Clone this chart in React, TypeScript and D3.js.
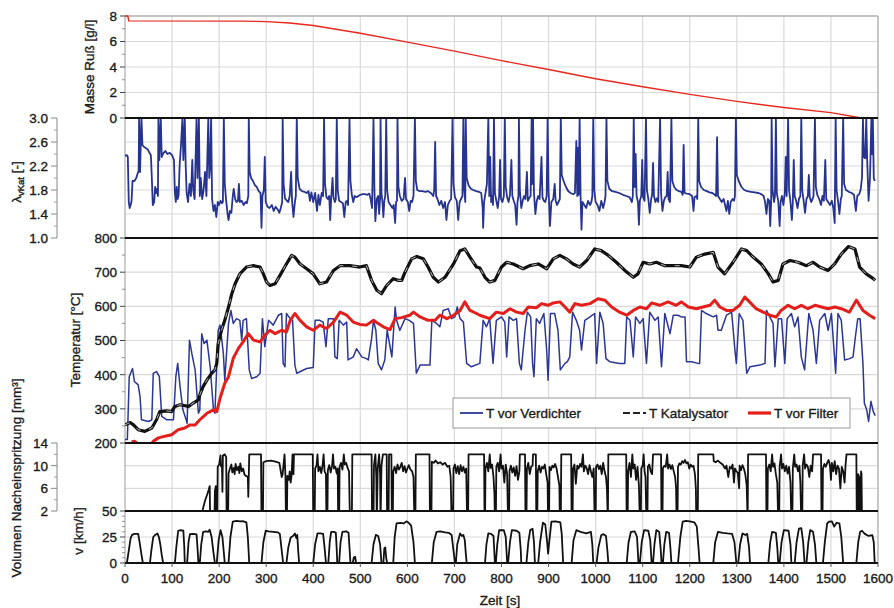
import React from 'react';
import * as d3 from 'd3';

type Pt = [number, number];

const W = 894;
const H = 608;
const FONT = 'Liberation Sans, Arial, sans-serif';

// --- data ---
const timeTicks = d3.range(0, 1601, 100);

const masseRuss: Pt[] = [
  [0, 8], [6, 8], [8, 7.62], [250, 7.6], [300, 7.56], [350, 7.45], [400, 7.25], [500, 6.65], [600, 5.95],
  [700, 5.25], [800, 4.5], [900, 3.8], [1000, 3.08], [1100, 2.45], [1200, 1.85], [1300, 1.3], [1400, 0.82],
  [1500, 0.42], [1565, 0],
];

const lambdaKat: Pt[] = [
  [0, 2.37], [4, 2.38], [6, 2.35], [8, 1.6], [10, 1.5], [12, 1.55], [14, 1.62], [16, 1.95], [20, 1.95], [24, 2.0],
  [27, 2.08], [29, 2.12], [30, 3.0], [32, 2.1], [35, 3.0], [37, 2.55], [40, 2.52], [44, 2.5], [48, 2.48], [52, 2.42],
  [55, 2.38], [57, 2.0], [59, 1.55], [62, 1.6], [64, 1.85], [66, 1.75], [68, 1.82], [70, 1.7], [71, 3.0], [73, 2.3],
  [76, 3.0], [78, 2.35], [82, 2.42], [86, 2.45], [90, 2.4], [95, 2.42], [100, 2.38], [104, 2.3], [106, 1.75],
  [108, 1.6], [110, 1.85], [112, 1.65], [114, 1.72], [116, 2.2], [119, 2.55], [122, 3.0], [124, 2.3], [127, 3.0],
  [129, 2.2], [131, 1.75], [134, 1.6], [137, 1.9], [140, 1.7], [143, 2.3], [145, 1.8], [148, 1.65], [152, 3.0],
  [154, 2.0], [157, 3.0], [159, 1.7], [161, 2.0], [164, 1.65], [167, 1.8], [170, 2.1], [173, 1.7], [177, 3.0],
  [179, 2.0], [181, 2.2], [183, 3.0], [185, 1.65], [188, 1.45], [191, 1.55], [194, 1.35], [197, 1.6], [200, 1.55],
  [203, 1.62], [206, 1.58], [208, 1.6], [210, 3.0], [212, 1.9], [215, 1.62], [218, 1.4], [220, 1.3], [223, 1.45],
  [226, 1.42], [229, 1.7], [231, 1.82], [234, 1.65], [237, 1.6], [240, 1.62], [242, 1.9], [244, 1.6], [248, 1.62],
  [252, 1.55], [256, 1.6], [259, 1.58], [262, 1.7], [263, 3.0], [265, 2.1], [268, 2.0], [272, 1.95], [276, 1.88],
  [280, 1.85], [284, 1.78], [288, 1.75], [290, 1.17], [292, 1.7], [295, 1.8], [297, 2.35], [299, 1.6], [303, 1.52],
  [307, 1.5], [312, 1.55], [316, 1.45], [320, 1.52], [324, 1.48], [328, 1.42], [331, 1.5], [334, 1.6], [335, 3.0],
  [337, 1.9], [340, 1.66], [344, 1.62], [347, 1.6], [350, 1.7], [353, 2.1], [355, 1.62], [358, 1.35], [361, 1.6],
  [363, 1.7], [365, 3.0], [367, 2.0], [371, 1.82], [376, 1.78], [381, 1.77], [386, 1.75], [390, 1.78], [393, 1.62],
  [396, 1.76], [400, 1.6], [404, 1.75], [408, 1.45], [411, 1.72], [414, 1.55], [418, 1.75], [421, 1.7], [423, 3.0],
  [425, 1.9], [428, 1.68], [431, 1.65], [434, 1.7], [436, 1.3], [438, 1.65], [441, 2.0], [443, 1.68], [446, 1.6],
  [448, 1.65], [450, 3.0], [452, 1.8], [455, 1.62], [459, 1.6], [463, 1.58], [466, 1.35], [469, 1.6], [472, 1.62],
  [474, 1.55], [477, 3.0], [479, 1.95], [482, 1.72], [485, 1.6], [488, 1.7], [492, 1.68], [496, 1.7], [500, 1.72],
  [505, 1.73], [510, 1.73], [515, 1.72], [519, 1.74], [522, 1.65], [525, 1.5], [528, 3.0], [530, 1.8], [532, 1.28],
  [535, 1.65], [538, 1.7], [540, 1.4], [542, 1.66], [543, 3.0], [545, 1.75], [547, 1.6], [549, 1.35], [551, 1.62],
  [553, 1.7], [555, 3.0], [557, 1.8], [560, 1.6], [564, 1.55], [568, 1.5], [571, 1.55], [574, 1.25], [576, 1.6],
  [578, 1.62], [579, 3.0], [581, 1.85], [584, 1.7], [588, 1.62], [592, 1.65], [595, 2.0], [597, 1.65], [601, 1.6],
  [604, 1.45], [607, 1.62], [610, 1.6], [613, 1.7], [616, 3.0], [618, 1.95], [621, 1.8], [626, 1.78], [632, 1.78],
  [638, 1.77], [644, 1.78], [650, 1.75], [655, 1.7], [657, 1.8], [659, 2.6], [661, 1.7], [664, 1.65], [668, 1.55],
  [672, 1.62], [676, 1.5], [680, 1.6], [683, 1.3], [686, 1.55], [690, 1.62], [693, 1.65], [696, 3.0], [698, 1.9],
  [701, 1.68], [705, 1.62], [708, 1.3], [711, 1.6], [714, 1.65], [717, 1.7], [719, 3.0], [721, 1.8], [723, 1.6],
  [724, 3.0], [726, 2.0], [730, 1.88], [735, 1.82], [740, 1.8], [746, 1.78], [752, 1.77], [757, 1.75], [760, 1.5],
  [761, 1.17], [763, 1.6], [766, 1.75], [769, 1.9], [772, 3.0], [774, 1.7], [776, 2.35], [778, 1.6], [780, 1.7],
  [782, 1.55], [784, 3.0], [786, 1.75], [789, 1.62], [792, 1.5], [795, 1.7], [797, 2.3], [799, 1.65], [802, 1.6],
  [805, 1.7], [807, 3.0], [809, 1.85], [812, 1.68], [815, 1.6], [818, 1.72], [821, 2.3], [823, 1.7], [826, 1.62],
  [829, 1.55], [832, 1.22], [834, 1.6], [836, 1.7], [837, 3.0], [839, 1.8], [842, 1.5], [845, 1.62], [848, 1.7],
  [851, 1.65], [854, 2.1], [856, 1.62], [860, 1.68], [862, 1.7], [864, 3.0], [865, 1.9], [867, 3.0], [869, 1.75],
  [872, 1.4], [875, 1.62], [878, 1.7], [881, 1.65], [885, 2.35], [887, 1.68], [890, 1.62], [893, 1.6], [896, 1.7],
  [898, 3.0], [900, 1.8], [903, 1.2], [906, 1.6], [910, 1.65], [913, 1.9], [915, 1.62], [918, 1.55], [921, 1.6],
  [924, 1.65], [926, 3.0], [928, 2.05], [932, 1.95], [937, 1.85], [942, 1.78], [947, 1.75], [952, 1.73], [956, 1.75],
  [959, 2.62], [961, 1.7], [962, 2.5], [964, 1.72], [966, 3.0], [968, 1.7], [970, 1.14], [972, 1.6], [976, 1.55],
  [980, 1.5], [984, 1.62], [988, 1.55], [991, 1.6], [993, 1.7], [995, 3.0], [997, 1.8], [1000, 1.6], [1004, 1.55],
  [1008, 1.45], [1012, 1.62], [1016, 1.5], [1019, 1.6], [1021, 1.7], [1023, 3.0], [1025, 1.95], [1029, 1.82],
  [1035, 1.78], [1042, 1.77], [1050, 1.75], [1058, 1.72], [1065, 1.7], [1072, 1.68], [1077, 1.6], [1079, 1.7],
  [1081, 3.0], [1083, 1.85], [1085, 2.4], [1087, 1.7], [1090, 1.6], [1092, 1.22], [1094, 1.62], [1097, 1.7],
  [1099, 2.3], [1101, 1.68], [1104, 1.62], [1107, 3.0], [1109, 1.8], [1112, 1.65], [1115, 1.42], [1118, 1.65],
  [1120, 1.72], [1122, 2.25], [1124, 1.7], [1127, 1.6], [1130, 1.66], [1133, 1.6], [1137, 3.0], [1139, 1.75],
  [1142, 1.45], [1145, 1.62], [1148, 1.68], [1151, 1.7], [1153, 2.1], [1155, 1.65], [1158, 1.6], [1161, 3.0],
  [1163, 1.95], [1167, 1.85], [1172, 1.8], [1177, 1.78], [1182, 1.77], [1185, 1.72], [1187, 2.55], [1189, 1.75],
  [1194, 1.74], [1200, 1.73], [1205, 1.7], [1208, 1.45], [1210, 1.68], [1214, 1.7], [1216, 1.65], [1218, 3.0],
  [1220, 1.95], [1224, 1.85], [1230, 1.8], [1236, 1.78], [1242, 1.76], [1248, 1.75], [1253, 1.72], [1256, 1.7],
  [1258, 2.68], [1260, 1.7], [1264, 1.65], [1268, 1.6], [1272, 1.65], [1275, 1.55], [1278, 1.45], [1281, 1.62],
  [1284, 1.4], [1287, 1.6], [1291, 1.65], [1294, 1.62], [1296, 1.7], [1298, 3.0], [1300, 2.05], [1304, 1.95],
  [1310, 1.85], [1316, 1.8], [1322, 1.78], [1330, 1.77], [1338, 1.76], [1346, 1.75], [1352, 1.73], [1357, 1.7],
  [1360, 1.6], [1363, 1.4], [1366, 1.65], [1369, 1.62], [1371, 1.2], [1373, 1.6], [1374, 3.0], [1376, 1.8],
  [1379, 1.6], [1381, 1.7], [1383, 3.0], [1385, 1.75], [1388, 1.62], [1391, 1.2], [1393, 1.6], [1396, 1.7],
  [1399, 1.55], [1402, 1.75], [1404, 2.35], [1406, 1.7], [1409, 3.0], [1411, 1.8], [1414, 1.6], [1417, 1.3],
  [1419, 1.6], [1421, 2.3], [1423, 1.7], [1426, 1.62], [1429, 1.5], [1432, 1.65], [1435, 1.7], [1437, 3.0],
  [1439, 1.8], [1442, 1.62], [1445, 1.42], [1448, 1.65], [1451, 1.7], [1453, 2.05], [1455, 1.68], [1458, 1.6],
  [1461, 1.65], [1463, 1.7], [1466, 3.0], [1468, 1.85], [1471, 1.72], [1475, 1.65], [1479, 1.55], [1482, 1.7],
  [1485, 1.62], [1488, 2.3], [1490, 1.65], [1494, 1.6], [1498, 1.55], [1502, 1.62], [1505, 1.5], [1508, 1.25],
  [1510, 3.0], [1512, 1.8], [1515, 1.62], [1518, 1.4], [1521, 1.65], [1523, 1.7], [1526, 3.0], [1528, 1.9],
  [1532, 1.8], [1538, 1.77], [1544, 1.75], [1549, 1.72], [1553, 1.45], [1556, 1.7], [1560, 1.73], [1563, 1.8],
  [1566, 2.0], [1568, 3.0], [1570, 2.35], [1573, 2.33], [1575, 3.0], [1577, 2.3], [1580, 1.62], [1583, 2.0],
  [1586, 3.0], [1587, 2.4], [1589, 3.0], [1591, 2.0], [1593, 1.95],
];

const tVerdichter: Pt[] = [
  [0, 210], [5, 210], [9, 394], [16, 418], [20, 380], [28, 370], [32, 336], [35, 268], [50, 263], [57, 268],
  [60, 404], [67, 409], [73, 394], [78, 278], [89, 268], [103, 268], [108, 394], [112, 433], [117, 365], [123, 297],
  [130, 268], [132, 258], [137, 501], [142, 462], [149, 414], [156, 287], [159, 297], [163, 520], [168, 491],
  [174, 501], [181, 423], [188, 297], [191, 287], [198, 530], [202, 545], [209, 462], [212, 384], [220, 550],
  [225, 588], [230, 550], [237, 564], [244, 559], [248, 501], [251, 559], [258, 564], [264, 414], [269, 389],
  [280, 394], [287, 404], [292, 564], [297, 482], [305, 559], [315, 545], [326, 574], [333, 579], [336, 433],
  [340, 423], [343, 579], [351, 564], [356, 559], [361, 428], [365, 404], [386, 418], [400, 421], [404, 559],
  [414, 559], [421, 554], [427, 482], [432, 564], [443, 564], [446, 452], [451, 447], [455, 559], [464, 545],
  [471, 554], [474, 443], [485, 452], [492, 476], [503, 452], [513, 447], [517, 443], [524, 506], [528, 559],
  [533, 530], [538, 433], [545, 414], [552, 443], [557, 530], [567, 452], [574, 598], [577, 559], [584, 530],
  [595, 564], [604, 559], [613, 550], [619, 404], [627, 428], [648, 428], [652, 559], [662, 550], [669, 540],
  [676, 588], [687, 593], [694, 564], [701, 569], [706, 598], [712, 564], [719, 554], [726, 433], [736, 423],
  [754, 433], [761, 559], [768, 540], [775, 564], [782, 433], [789, 559], [800, 569], [807, 554], [811, 452],
  [816, 569], [825, 559], [832, 564], [838, 433], [842, 414], [850, 530], [855, 583], [862, 569], [866, 433],
  [869, 394], [874, 564], [881, 550], [890, 579], [896, 472], [899, 384], [904, 579], [913, 579], [920, 530],
  [925, 414], [935, 433], [940, 438], [945, 452], [951, 583], [959, 559], [966, 530], [970, 472], [977, 559],
  [988, 569], [998, 579], [1002, 433], [1009, 583], [1016, 550], [1022, 447], [1030, 438], [1051, 433],
  [1062, 433], [1066, 569], [1073, 559], [1080, 452], [1085, 569], [1094, 550], [1101, 564], [1108, 433],
  [1115, 583], [1126, 559], [1133, 569], [1140, 423], [1147, 579], [1158, 520], [1165, 574], [1175, 574],
  [1182, 569], [1190, 569], [1193, 438], [1204, 438], [1218, 433], [1221, 433], [1225, 588], [1235, 579],
  [1250, 569], [1257, 574], [1260, 530], [1267, 530], [1278, 574], [1289, 583], [1296, 472], [1299, 433],
  [1305, 579], [1313, 559], [1321, 404], [1328, 423], [1349, 428], [1360, 433], [1363, 588], [1370, 569],
  [1377, 550], [1381, 423], [1388, 564], [1395, 564], [1402, 433], [1407, 564], [1416, 579], [1423, 540],
  [1430, 569], [1437, 452], [1444, 414], [1453, 579], [1462, 530], [1469, 433], [1476, 559], [1487, 579],
  [1494, 530], [1501, 579], [1510, 404], [1515, 579], [1522, 559], [1529, 443], [1540, 447], [1547, 452],
  [1552, 511], [1557, 564], [1562, 564], [1568, 433], [1571, 317], [1576, 297], [1580, 263], [1585, 322],
  [1590, 292], [1594, 280],
];

const tKatalysator: Pt[] = [
  [0, 253], [11, 260], [18, 253], [28, 239], [42, 234], [57, 244], [67, 268], [74, 292], [89, 294], [99, 292],
  [106, 307], [117, 312], [135, 307], [145, 317], [156, 326], [159, 341], [166, 365], [174, 384], [184, 404],
  [191, 414], [195, 433], [198, 491], [205, 530], [212, 559], [220, 598], [227, 637], [234, 666], [244, 695],
  [258, 715], [273, 719], [287, 715], [294, 695], [301, 671], [308, 661], [319, 666], [329, 690], [343, 724],
  [354, 749], [361, 744], [372, 724], [386, 710], [400, 695], [414, 666], [428, 671], [443, 705], [457, 719],
  [478, 719], [499, 715], [513, 719], [524, 676], [535, 647], [545, 637], [556, 661], [570, 681], [581, 676],
  [588, 676], [595, 700], [609, 739], [620, 746], [634, 739], [644, 715], [655, 685], [666, 671], [680, 685],
  [698, 724], [712, 763], [722, 768], [733, 744], [747, 715], [754, 712], [765, 685], [775, 671], [786, 676],
  [800, 715], [811, 729], [825, 724], [846, 710], [860, 719], [878, 724], [896, 710], [910, 739], [924, 749],
  [938, 739], [952, 724], [966, 715], [981, 734], [998, 768], [1012, 763], [1027, 749], [1044, 729], [1062, 705],
  [1080, 685], [1090, 695], [1101, 729], [1115, 724], [1129, 729], [1147, 719], [1165, 719], [1182, 719],
  [1200, 715], [1214, 744], [1232, 753], [1250, 758], [1260, 715], [1274, 695], [1292, 729], [1310, 768],
  [1321, 763], [1331, 749], [1352, 724], [1367, 695], [1377, 671], [1388, 676], [1398, 724], [1413, 734],
  [1430, 729], [1448, 719], [1462, 729], [1476, 715], [1494, 705], [1508, 724], [1522, 753], [1537, 775],
  [1551, 768], [1561, 715], [1575, 695], [1590, 681], [1594, 676],
];

const tFilter: Pt[] = [
  [14, 203], [20, 205], [25, 200], [28, 195], [55, 195], [60, 205], [71, 215], [85, 220], [99, 224], [113, 239],
  [127, 244], [138, 253], [149, 253], [159, 268], [174, 287], [188, 297], [195, 292], [202, 331], [212, 375],
  [220, 394], [230, 448], [241, 477], [251, 496], [262, 520], [273, 501], [287, 496], [297, 515], [308, 530],
  [319, 520], [333, 530], [343, 525], [351, 559], [361, 579], [372, 559], [386, 540], [400, 530], [414, 545],
  [428, 535], [443, 554], [457, 583], [471, 574], [485, 554], [499, 547], [513, 545], [528, 559], [538, 550],
  [549, 540], [563, 532], [574, 564], [588, 567], [605, 574], [613, 583], [627, 569], [644, 559], [659, 559],
  [669, 574], [684, 564], [698, 574], [712, 588], [722, 613], [733, 588], [747, 579], [754, 574], [775, 564],
  [789, 583], [804, 579], [818, 593], [832, 583], [846, 579], [857, 598], [874, 596], [885, 608], [899, 603],
  [910, 610], [924, 613], [935, 598], [945, 583], [956, 608], [970, 603], [988, 608], [1005, 622], [1020, 618],
  [1034, 598], [1051, 583], [1066, 574], [1080, 588], [1094, 598], [1108, 593], [1119, 610], [1136, 603],
  [1154, 613], [1171, 603], [1182, 613], [1197, 598], [1214, 593], [1228, 598], [1243, 603], [1253, 618],
  [1264, 598], [1278, 588], [1292, 588], [1306, 603], [1317, 627], [1327, 613], [1341, 593], [1356, 583],
  [1370, 574], [1384, 569], [1394, 588], [1409, 603], [1423, 593], [1437, 603], [1451, 593], [1466, 603],
  [1480, 598], [1494, 593], [1508, 598], [1522, 593], [1539, 583], [1554, 618], [1568, 588], [1582, 574],
  [1594, 564],
];

const nacheinspritzung: Pt[] = [
  [0, 0], [163, 0], [165, 2.2], [170, 3.8], [175, 5.0], [178, 5.8], [180, 6.4], [181, 0], [190, 0], [191, 5.5],
  [193, 6.4], [194, 0], [196, 0], [197, 9.8], [200, 10.2], [203, 11.8], [204, 9.9], [206, 10.1], [207, 5.4],
  [208, 11.8], [212, 12.0], [215, 11.5], [216, 0], [219, 0], [220, 8.6], [223, 9.5], [226, 10.2], [228, 8.8],
  [231, 9.6], [233, 8.5], [235, 10.3], [238, 9.2], [241, 9.8], [243, 8.7], [245, 10.4], [248, 9.0], [251, 9.5],
  [254, 8.4], [257, 8.2], [261, 8.0], [262, 4.5], [264, 12.0], [289, 12.0], [290, 0], [293, 0], [294, 10.6],
  [300, 10.8], [310, 10.9], [320, 10.7], [328, 10.5], [330, 9.5], [333, 8.0], [335, 8.5], [337, 10.3], [339, 12.0],
  [341, 8.0], [342, 0], [344, 0], [345, 8.2], [348, 7.5], [350, 9.0], [352, 7.0], [354, 8.3], [356, 12.0],
  [358, 8.5], [359, 12.0], [399, 12.0], [400, 0], [403, 0], [404, 9.5], [407, 10.0], [409, 12.0], [411, 9.0],
  [414, 9.8], [417, 8.7], [420, 10.2], [422, 12.0], [424, 9.0], [427, 8.5], [428, 0], [430, 0], [431, 9.2],
  [434, 10.1], [437, 8.8], [440, 10.0], [442, 12.0], [444, 9.5], [447, 9.8], [450, 8.6], [452, 9.5], [453, 0],
  [455, 0], [456, 9.8], [459, 10.5], [462, 9.3], [465, 12.0], [467, 10.2], [470, 10.5], [473, 9.6], [476, 9.0],
  [478, 0], [482, 0], [483, 12.0], [524, 12.0], [525, 0], [528, 0], [529, 10.0], [532, 12.0], [534, 8.0],
  [535, 0], [537, 9.5], [540, 12.0], [542, 8.5], [543, 0], [545, 10.0], [548, 12.0], [556, 12.0], [557, 0],
  [560, 0], [561, 12.0], [566, 12.0], [567, 0], [569, 0], [570, 9.0], [573, 9.8], [576, 8.7], [579, 10.2],
  [582, 9.3], [585, 9.8], [588, 10.5], [591, 9.0], [594, 9.9], [597, 8.8], [600, 9.5], [603, 10.1], [606, 9.4],
  [610, 9.0], [613, 8.0], [615, 0], [617, 0], [618, 12.0], [647, 12.0], [648, 0], [651, 0], [652, 10.7],
  [656, 10.5], [660, 10.9], [665, 10.4], [670, 10.6], [675, 10.2], [680, 10.5], [685, 9.8], [689, 10.0],
  [692, 8.0], [694, 0], [697, 0], [698, 9.5], [701, 10.2], [704, 8.7], [707, 9.9], [710, 8.5], [713, 10.1],
  [716, 9.0], [719, 9.8], [722, 8.8], [725, 9.5], [727, 0], [729, 0], [730, 12.0], [763, 12.0], [764, 0],
  [765, 0], [766, 9.5], [769, 10.5], [772, 9.0], [775, 12.0], [777, 9.6], [780, 10.2], [783, 8.0], [785, 5.0],
  [786, 0], [788, 0], [789, 9.8], [792, 10.5], [795, 9.0], [798, 12.0], [800, 9.5], [803, 10.0], [806, 7.0],
  [809, 10.2], [812, 8.5], [814, 0], [816, 0], [817, 9.0], [820, 10.0], [823, 8.8], [826, 9.7], [829, 8.2],
  [832, 9.9], [835, 7.5], [838, 9.0], [839, 12.0], [850, 12.0], [851, 0], [853, 0], [854, 9.5], [857, 10.5],
  [860, 8.5], [863, 9.8], [866, 10.0], [867, 12.0], [873, 12.0], [874, 0], [876, 0], [877, 9.0], [880, 10.0],
  [883, 8.8], [886, 9.8], [889, 9.5], [892, 10.2], [895, 8.5], [898, 7.0], [899, 0], [901, 0], [902, 9.8],
  [905, 9.2], [908, 10.0], [911, 9.7], [914, 10.3], [917, 9.5], [920, 8.0], [923, 6.5], [924, 0], [926, 0],
  [927, 12.0], [948, 12.0], [949, 0], [951, 0], [952, 9.5], [955, 10.2], [958, 6.8], [961, 10.0], [964, 9.5],
  [967, 10.3], [970, 9.8], [973, 12.0], [975, 9.0], [978, 10.0], [981, 9.6], [984, 8.5], [987, 10.1], [990, 9.0],
  [993, 8.0], [996, 9.5], [998, 0], [1000, 0], [1001, 9.8], [1004, 10.2], [1007, 9.4], [1010, 10.0], [1013, 8.5],
  [1016, 10.5], [1019, 9.0], [1022, 8.0], [1024, 6.0], [1026, 0], [1027, 12.0], [1065, 12.0], [1066, 0],
  [1068, 0], [1069, 9.0], [1072, 10.5], [1075, 8.0], [1078, 12.0], [1080, 9.5], [1083, 10.2], [1086, 7.5],
  [1089, 9.8], [1092, 6.5], [1094, 0], [1096, 0], [1097, 9.5], [1100, 10.0], [1102, 12.0], [1104, 9.0],
  [1106, 8.0], [1108, 0], [1110, 0], [1111, 9.8], [1114, 10.2], [1117, 9.0], [1120, 8.5], [1122, 12.0],
  [1139, 12.0], [1140, 0], [1142, 0], [1143, 9.6], [1146, 10.0], [1149, 9.8], [1152, 12.0], [1154, 9.5],
  [1157, 10.2], [1160, 9.4], [1163, 10.1], [1166, 9.0], [1169, 8.0], [1171, 6.0], [1172, 0], [1174, 0],
  [1175, 9.8], [1178, 10.4], [1181, 10.2], [1184, 10.8], [1187, 10.5], [1190, 11.0], [1193, 10.4], [1196, 10.6],
  [1199, 9.5], [1202, 10.2], [1205, 9.8], [1208, 10.0], [1211, 8.5], [1213, 6.0], [1214, 0], [1217, 0],
  [1218, 12.0], [1250, 12.0], [1251, 10.8], [1255, 10.6], [1260, 10.9], [1265, 10.5], [1270, 10.2], [1275, 9.5],
  [1278, 10.0], [1282, 8.0], [1285, 9.8], [1288, 9.5], [1291, 10.2], [1294, 7.0], [1296, 9.5], [1299, 9.0],
  [1302, 8.8], [1305, 6.0], [1306, 10.0], [1309, 9.2], [1312, 10.1], [1315, 9.5], [1318, 8.5], [1321, 6.5],
  [1323, 0], [1324, 12.0], [1362, 12.0], [1363, 0], [1365, 0], [1366, 9.5], [1369, 10.2], [1372, 9.0],
  [1375, 12.0], [1377, 9.8], [1380, 10.4], [1383, 8.5], [1386, 7.0], [1388, 0], [1390, 0], [1391, 9.8],
  [1394, 12.0], [1396, 9.5], [1399, 10.3], [1402, 9.0], [1405, 10.0], [1408, 8.6], [1411, 9.8], [1414, 7.0],
  [1416, 0], [1418, 0], [1419, 9.5], [1422, 12.0], [1424, 9.8], [1427, 10.2], [1430, 9.0], [1433, 10.0],
  [1435, 7.0], [1437, 0], [1439, 0], [1440, 10.0], [1443, 12.0], [1445, 9.5], [1448, 10.2], [1451, 9.8],
  [1454, 8.0], [1457, 10.0], [1460, 9.0], [1462, 12.0], [1479, 12.0], [1480, 0], [1482, 0], [1483, 9.5],
  [1486, 10.3], [1489, 9.8], [1492, 10.5], [1495, 11.0], [1498, 10.0], [1500, 7.5], [1502, 10.5], [1505, 9.0],
  [1508, 10.8], [1511, 8.5], [1514, 10.0], [1517, 9.5], [1520, 6.0], [1523, 9.8], [1526, 9.0], [1529, 7.0],
  [1531, 10.0], [1533, 12.0], [1554, 12.0], [1555, 0], [1557, 0], [1558, 8.5], [1560, 8.0], [1561, 0],
  [1563, 0], [1564, 9.0], [1565, 8.5], [1566, 0], [1600, 0],
];

const speed: Pt[] = [
  [0, 0], [4, 0], [8, 12], [12, 24], [15, 27], [20, 28], [28, 28], [31, 20], [35, 8], [38, 0], [53, 0], [56, 12],
  [60, 25], [64, 27], [69, 28.4], [72, 25], [75, 18], [78, 8], [81, 0], [106, 0], [109, 15], [113, 31], [118, 31.5],
  [124, 31], [126, 15], [127, 0], [132, 0], [135, 20], [138, 27.7], [145, 28], [152, 27.5], [154, 15], [156, 0],
  [159, 0], [162, 18], [166, 30], [172, 30.5], [177, 30], [180, 32], [184, 25], [188, 10], [191, 0], [195, 0],
  [199, 22], [203, 31.6], [207, 25], [210, 10], [212, 0], [220, 0], [224, 25], [229, 39.7], [237, 40.6], [245, 40],
  [250, 40.2], [258, 39], [261, 25], [264, 0], [290, 0], [294, 20], [299, 31], [305, 30.5], [315, 30], [325, 29.5],
  [329, 28], [333, 12], [336, 0], [343, 0], [347, 15], [352, 24.5], [357, 26], [361, 28.4], [364, 24], [366, 27],
  [368, 12], [370, 0], [400, 0], [404, 18], [409, 28.4], [415, 28.5], [421, 28], [424, 15], [427, 0], [432, 0],
  [435, 20], [438, 30], [444, 30], [448, 29], [450, 12], [451, 0], [455, 0], [458, 20], [462, 30], [470, 30.5],
  [475, 29], [477, 15], [479, 0], [484, 0], [486, 5], [489, 6], [491, 0], [524, 0], [528, 18], [533, 27], [538, 26],
  [542, 18], [545, 0], [549, 0], [551, 14], [553, 15], [555, 5], [557, 0], [570, 0], [573, 25], [577, 38],
  [585, 38.5], [592, 38], [598, 40], [602, 39], [608, 36], [613, 20], [616, 0], [652, 0], [656, 20], [662, 30],
  [670, 30.5], [680, 29.5], [688, 29], [694, 27], [698, 12], [701, 0], [703, 0], [706, 18], [712, 28.4], [716, 26],
  [719, 27], [722, 22], [724, 10], [726, 0], [765, 0], [768, 18], [772, 28.4], [778, 28], [783, 26], [786, 0],
  [788, 0], [791, 18], [795, 31.6], [805, 31.5], [809, 25], [812, 0], [814, 0], [818, 20], [822, 31.6], [832, 31],
  [838, 29], [841, 12], [842, 0], [853, 0], [857, 20], [861, 31.6], [866, 33], [869, 20], [871, 0], [878, 0],
  [882, 20], [888, 38.7], [893, 37], [897, 20], [899, 9], [901, 18], [906, 39.7], [915, 40], [925, 39], [928, 28],
  [931, 0], [949, 0], [953, 22], [959, 31.6], [968, 30], [980, 28.5], [990, 30], [993, 18], [995, 0], [1002, 0],
  [1006, 15], [1012, 26.8], [1017, 27.7], [1022, 26], [1025, 12], [1027, 0], [1066, 0], [1070, 20], [1075, 30],
  [1083, 30.5], [1088, 25], [1091, 0], [1094, 0], [1098, 20], [1103, 31.6], [1112, 31], [1116, 22], [1119, 0],
  [1122, 0], [1125, 18], [1129, 31.6], [1135, 30], [1138, 15], [1140, 0], [1143, 0], [1146, 18], [1150, 30],
  [1156, 29], [1159, 14], [1161, 0], [1175, 0], [1180, 25], [1185, 39.7], [1192, 40.6], [1200, 40], [1210, 39],
  [1215, 35], [1218, 18], [1221, 0], [1250, 0], [1254, 20], [1260, 30], [1270, 29], [1280, 28.4], [1290, 28],
  [1295, 20], [1299, 0], [1303, 0], [1307, 18], [1312, 28.4], [1318, 27], [1322, 28], [1326, 15], [1328, 0],
  [1367, 0], [1371, 20], [1375, 30], [1383, 29], [1386, 15], [1388, 0], [1391, 0], [1395, 20], [1400, 31.6],
  [1410, 31], [1414, 18], [1416, 0], [1423, 0], [1427, 20], [1432, 33], [1437, 33.5], [1441, 20], [1444, 0],
  [1448, 0], [1452, 20], [1456, 31.6], [1462, 30], [1466, 18], [1469, 0], [1483, 0], [1487, 20], [1492, 38],
  [1496, 39.7], [1502, 40], [1507, 35], [1512, 38.7], [1518, 38], [1522, 25], [1526, 0], [1554, 0], [1558, 20],
  [1562, 30], [1566, 31], [1572, 28], [1580, 26], [1588, 26.8], [1591, 20], [1593, 0], [1598, 0],
];

const masseTicks = [0, 2, 4, 6, 8];
const lambdaTicks = [3.0, 2.6, 2.2, 1.8, 1.4, 1.0];
const tempTicks = [200, 300, 400, 500, 600, 700, 800];
const injTicks = [14, 10, 6, 2];
const speedTicks = [0, 25, 50];

const legendItems = [
  { label: 'T vor Verdichter', color: '#2b3794', width: 1.8, dash: '' },
  { label: 'T Katalysator', color: '#222', width: 1.8, dash: '7,3' },
  { label: 'T vor Filter', color: '#e41e1a', width: 3.2, dash: '' },
];

// --- scales ---
const x = d3.scaleLinear().domain([0, 1600]).range([125, 878]);
const yMasse = d3.scaleLinear().domain([0, 8]).range([118, 16]);
const yLambda = d3.scaleLinear().domain([1, 3]).range([238, 118]);
const yTemp = d3.scaleLinear().domain([200, 800]).range([443, 238]);
const yInj = d3.scaleLinear().domain([2, 14]).range([511, 443]);
const ySpeed = d3.scaleLinear().domain([0, 50]).range([563, 511]);

const lineFor = (y: d3.ScaleLinear<number, number>) =>
  d3.line<Pt>().x(d => x(d[0])).y(d => y(d[1]));

const panels = [
  { id: 'cMasse', y: yMasse },
  { id: 'cLambda', y: yLambda },
  { id: 'cTemp', y: yTemp },
  { id: 'cInj', y: yInj },
  { id: 'cSpeed', y: ySpeed },
];

// text looks slightly heavy in the original scan
const txt = { fontSize: 13.5, stroke: '#1a1a1a', strokeWidth: 0.35 };

function LeftTicks({ y, major, minor, fmt }: {
  y: d3.ScaleLinear<number, number>; major: number[]; minor: number[]; fmt: (v: number) => string;
}) {
  const x0 = x(0);
  return (
    <g>
      {minor.map(v => <line key={'m' + v} x1={x0 - 3} x2={x0} y1={y(v)} y2={y(v)} stroke="#777" strokeWidth={0.8} />)}
      {major.map(v => (
        <g key={'M' + v}>
          <line x1={x0 - 5} x2={x0} y1={y(v)} y2={y(v)} stroke="#444" strokeWidth={1} />
          <text x={x0 - 8} y={y(v)} dy="0.36em" textAnchor="end" {...txt}>{fmt(v)}</text>
        </g>
      ))}
    </g>
  );
}

function SideAxis({ y, major, minor, fmt }: {
  y: d3.ScaleLinear<number, number>; major: number[]; minor: number[]; fmt: (v: number) => string;
}) {
  const ax = 57;
  const [a, b] = y.range();
  return (
    <g>
      <line x1={ax} x2={ax} y1={a} y2={b} stroke="#888" strokeWidth={1} />
      {minor.map(v => <line key={'m' + v} x1={ax - 3} x2={ax} y1={y(v)} y2={y(v)} stroke="#888" strokeWidth={0.8} />)}
      {major.map(v => (
        <g key={'M' + v}>
          <line x1={ax - 6} x2={ax} y1={y(v)} y2={y(v)} stroke="#888" strokeWidth={1} />
          <text x={ax - 9} y={y(v)} dy="0.36em" textAnchor="end" {...txt}>{fmt(v)}</text>
        </g>
      ))}
    </g>
  );
}

export default function App() {
  const xl = x(0), xr = x(1600);
  const separators = [yMasse(0), yLambda(1), yTemp(200), yInj(2), ySpeed(0)];

  const hGrid: number[] = [
    ...[2, 4, 6].map(v => yMasse(v)),
    ...[1.4, 1.8, 2.2, 2.6].map(v => yLambda(v)),
    ...[300, 400, 500, 600, 700].map(v => yTemp(v)),
    ...[6, 10].map(v => yInj(v)),
    ySpeed(25),
  ];

  const lx = 453, ly = 398;

  return (
    <div style={{ position: 'fixed', left: 0, top: 0, width: W, height: H, background: '#fff' }}>
      <svg width={W} height={H} viewBox={`0 0 ${W} ${H}`} fontFamily={FONT} fill="#1a1a1a">
        <defs>
          {panels.map(p => {
            const [lo, hi] = p.y.range();
            return (
              <clipPath id={p.id} key={p.id}>
                <rect x={xl} y={hi - 1} width={xr - xl} height={lo - hi + 2} />
              </clipPath>
            );
          })}
        </defs>

        {/* grid */}
        <g stroke="#dadada" strokeWidth={1.2}>
          {timeTicks.slice(1, -1).map(t => <line key={t} x1={x(t)} x2={x(t)} y1={16} y2={563} />)}
          {hGrid.map((yy, i) => <line key={i} x1={xl} x2={xr} y1={yy} y2={yy} />)}
        </g>

        {/* frame */}
        <line x1={xl} x2={xr} y1={16} y2={16} stroke="#b0b0b0" strokeWidth={1.4} />
        <line x1={xr} x2={xr} y1={16} y2={563} stroke="#b0b0b0" strokeWidth={1.4} />
        <line x1={xl} x2={xl} y1={16} y2={563} stroke="#9a9a9a" strokeWidth={1} />

        {/* series */}
        <path d={lineFor(yMasse)(masseRuss) ?? ''} fill="none" stroke="#e8281e" strokeWidth={1.4} clipPath="url(#cMasse)" />
        <path d={lineFor(yLambda)(lambdaKat) ?? ''} fill="none" stroke="#26338f" strokeWidth={1.8} strokeLinejoin="round" clipPath="url(#cLambda)" />
        <g clipPath="url(#cTemp)" fill="none" strokeLinejoin="round">
          <path d={lineFor(yTemp)(tVerdichter) ?? ''} stroke="#2b3794" strokeWidth={1.5} />
          <path d={lineFor(yTemp)(tKatalysator) ?? ''} stroke="#111" strokeWidth={3.2} />
          <path d={lineFor(yTemp)(tKatalysator) ?? ''} stroke="#fff" strokeWidth={0.7} strokeDasharray="5,9" />
          <path d={lineFor(yTemp)(tFilter) ?? ''} stroke="#e41e1a" strokeWidth={3} />
        </g>
        <path d={lineFor(yInj)(nacheinspritzung) ?? ''} fill="none" stroke="#111" strokeWidth={1.8} strokeLinejoin="round" clipPath="url(#cInj)" />
        <path d={lineFor(ySpeed)(speed) ?? ''} fill="none" stroke="#111" strokeWidth={1.8} strokeLinejoin="round" clipPath="url(#cSpeed)" />

        {/* panel separators */}
        {separators.map((yy, i) => (
          <line key={i} x1={xl} x2={xr} y1={yy} y2={yy} stroke="#111" strokeWidth={2} />
        ))}

        {/* left ticks on plot */}
        <LeftTicks y={yMasse} major={masseTicks} minor={[1, 3, 5, 7]} fmt={v => String(v)} />
        <LeftTicks y={yTemp} major={tempTicks} minor={d3.range(250, 800, 100)} fmt={v => String(v)} />
        <LeftTicks y={ySpeed} major={speedTicks} minor={d3.range(5, 50, 5).filter(v => v !== 25)} fmt={v => String(v)} />

        {/* separate axes */}
        <SideAxis y={yLambda} major={lambdaTicks} minor={[2.8, 2.4, 2.0, 1.6, 1.2]} fmt={v => v.toFixed(1)} />
        <SideAxis y={yInj} major={injTicks} minor={[12, 8, 4]} fmt={v => String(v)} />

        {/* x axis */}
        {timeTicks.map(t => (
          <g key={t}>
            <line x1={x(t)} x2={x(t)} y1={563} y2={567} stroke="#555" strokeWidth={1} />
            <text x={x(t)} y={583} textAnchor="middle" {...txt}>{t}</text>
          </g>
        ))}
        <text x={500} y={605} textAnchor="middle" {...txt}>Zeit [s]</text>

        {/* axis titles */}
        <text transform={`translate(94,${(yMasse(0) + yMasse(8)) / 2}) rotate(-90)`} textAnchor="middle" {...txt}>Masse Ruß [g/l]</text>
        <text transform={`translate(21,182) rotate(-90)`} textAnchor="middle" {...txt}>
          <tspan>λ</tspan><tspan fontSize={9.5} dy={3}>vKat</tspan><tspan dy={-3}> [-]</tspan>
        </text>
        <text transform={`translate(80,340) rotate(-90)`} textAnchor="middle" {...txt}>Temperatur [°C]</text>
        <text transform={`translate(21,478) rotate(-90)`} textAnchor="middle" {...txt}>Volumen Nacheinspritzung [mm³]</text>
        <text transform={`translate(83,531) rotate(-90)`} textAnchor="middle" {...txt}>v [km/h]</text>

        {/* legend */}
        <rect x={lx} y={ly} width={397} height={30} fill="#fff" stroke="#9a9a9a" strokeWidth={1} />
        {legendItems.map((it, i) => {
          const ox = lx + [7, 170, 295][i];
          return (
            <g key={it.label}>
              <line x1={ox} x2={ox + 23} y1={ly + 15} y2={ly + 15} stroke={it.color} strokeWidth={it.width} strokeDasharray={it.dash || undefined} />
              <text x={ox + 26} y={ly + 15} dy="0.36em" {...txt}>{it.label}</text>
            </g>
          );
        })}
      </svg>
    </div>
  );
}
